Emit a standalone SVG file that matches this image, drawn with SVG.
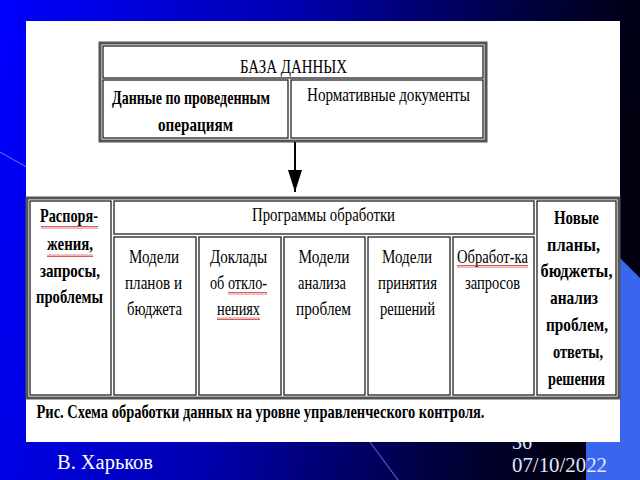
<svg xmlns="http://www.w3.org/2000/svg" width="640" height="480" viewBox="0 0 640 480" font-family="'Liberation Serif', 'Times New Roman', serif">
  <defs>
    <linearGradient id="bg" x1="0" y1="0" x2="1" y2="0.15">
      <stop offset="0" stop-color="#0000ff"/>
      <stop offset="0.45" stop-color="#0000b0"/>
      <stop offset="0.8" stop-color="#000040"/>
      <stop offset="1" stop-color="#000010"/>
    </linearGradient>
    <pattern id="wavy" width="4" height="3" patternUnits="userSpaceOnUse">
      <path d="M0,2.5 L1,0.5 L2,2.5 L3,0.5 L4,2.5" fill="none" stroke="#d03030" stroke-width="0.8"/>
    </pattern>
    <marker id="arrow" markerWidth="22" markerHeight="14" refX="22" refY="7" orient="auto" markerUnits="userSpaceOnUse" viewBox="0 0 22 14">
      <path d="M0,0 L22,7 L0,14 Z" fill="#000"/>
    </marker>
    <style>
      text { font-family: 'Liberation Serif', 'Times New Roman', serif; }
      .t { font-size: 19px; fill: #000; text-anchor: middle; }
      .b { font-weight: bold; }
      .outer { fill: #fff; stroke: #555; stroke-width: 3; }
      .cell { fill: #fff; stroke: #222; stroke-width: 1.3; }
      .foot { font-size: 20px; }
      .wave { fill: url(#wavy); }
    </style>
  </defs>

  <!-- background -->
  <rect x="0" y="0" width="640" height="480" fill="url(#bg)"/>
  <polygon points="586,224 640,278 640,480 586,480" fill="#3a66ee"/>
  <line x1="0" y1="152" x2="30" y2="169" stroke="#6a86ff" stroke-width="1.2" opacity="0.7"/>
  <line x1="370" y1="442" x2="398" y2="480" stroke="#6a86ff" stroke-width="1.2" opacity="0.7"/>
  <text class="foot" x="512" y="449" fill="#e0e8ff" font-size="18">36</text>

  <!-- slide white panel -->
  <rect x="26" y="21" width="594" height="421" fill="#fff"/>

  <!-- top table -->
  <g id="db-table">
    <rect class="outer" x="100" y="43" width="386" height="98"/>
    <g id="db-title">
      <rect class="cell" x="103" y="46" width="380" height="32"/>
      <text class="t" x="293.5" y="73" textLength="107" lengthAdjust="spacingAndGlyphs">БАЗА ДАННЫХ</text>
    </g>
    <g id="db-ops">
      <rect class="cell" x="103" y="80" width="185" height="58"/>
      <text class="t b" x="191" y="104" textLength="158" lengthAdjust="spacingAndGlyphs">Данные по проведенным</text>
      <text class="t b" x="195.5" y="131" textLength="75" lengthAdjust="spacingAndGlyphs">операциям</text>
    </g>
    <g id="db-norm">
      <rect class="cell" x="291" y="80" width="192" height="58"/>
      <text class="t" x="388.5" y="101" textLength="163" lengthAdjust="spacingAndGlyphs">Нормативные документы</text>
    </g>
  </g>

  <!-- connectors -->
  <g id="connectors">
    <line x1="295" y1="142" x2="295" y2="192" stroke="#000" stroke-width="2" marker-end="url(#arrow)"/>
  </g>

  <!-- bottom table -->
  <g id="proc-table">
    <rect class="outer" x="27" y="198" width="592" height="200"/>

    <g id="inputs">
      <rect class="cell" x="30" y="201" width="81" height="194"/>
      <text class="t b" x="69" y="222" textLength="58" lengthAdjust="spacingAndGlyphs">Распоря-</text>
      <text class="t b" x="70" y="250" textLength="46" lengthAdjust="spacingAndGlyphs">жения,</text>
      <text class="t b" x="70" y="277" textLength="60" lengthAdjust="spacingAndGlyphs">запросы,</text>
      <text class="t b" x="69.5" y="303" textLength="67" lengthAdjust="spacingAndGlyphs">проблемы</text>
      <rect class="wave" x="41" y="226" width="57" height="3"/>
      <rect class="wave" x="47" y="254" width="46" height="3"/>
    </g>

    <g id="programs">
      <rect class="cell" x="114" y="201" width="420" height="33"/>
      <text class="t" x="323.5" y="221" textLength="143" lengthAdjust="spacingAndGlyphs">Программы обработки</text>
    </g>

    <g id="m-plans">
      <rect class="cell" x="114" y="237" width="82" height="158"/>
      <text class="t" x="154" y="263" textLength="50" lengthAdjust="spacingAndGlyphs">Модели</text>
      <text class="t" x="153.5" y="289" textLength="57" lengthAdjust="spacingAndGlyphs">планов и</text>
      <text class="t" x="154.5" y="315" textLength="55" lengthAdjust="spacingAndGlyphs">бюджета</text>
    </g>

    <g id="m-reports">
      <rect class="cell" x="199" y="237" width="82" height="158"/>
      <text class="t" x="238.5" y="263" textLength="57" lengthAdjust="spacingAndGlyphs">Доклады</text>
      <text class="t" x="238.5" y="289" textLength="57" lengthAdjust="spacingAndGlyphs">об откло-</text>
      <text class="t" x="238.5" y="315" textLength="43" lengthAdjust="spacingAndGlyphs">нениях</text>
      <rect class="wave" x="228" y="292" width="39" height="3"/>
      <rect class="wave" x="217" y="317" width="43" height="3"/>
    </g>

    <g id="m-analysis">
      <rect class="cell" x="284" y="237" width="81" height="158"/>
      <text class="t" x="324" y="263" textLength="51" lengthAdjust="spacingAndGlyphs">Модели</text>
      <text class="t" x="322" y="289" textLength="48" lengthAdjust="spacingAndGlyphs">анализа</text>
      <text class="t" x="323.5" y="315" textLength="55" lengthAdjust="spacingAndGlyphs">проблем</text>
    </g>

    <g id="m-decisions">
      <rect class="cell" x="368" y="237" width="82" height="158"/>
      <text class="t" x="407" y="263" textLength="50" lengthAdjust="spacingAndGlyphs">Модели</text>
      <text class="t" x="407.5" y="289" textLength="59" lengthAdjust="spacingAndGlyphs">принятия</text>
      <text class="t" x="407.5" y="315" textLength="55" lengthAdjust="spacingAndGlyphs">решений</text>
    </g>

    <g id="m-requests">
      <rect class="cell" x="453" y="237" width="81" height="158"/>
      <text class="t" x="492.5" y="263" textLength="71" lengthAdjust="spacingAndGlyphs">Обработ-ка</text>
      <text class="t" x="492.5" y="289" textLength="55" lengthAdjust="spacingAndGlyphs">запросов</text>
      <rect class="wave" x="457" y="265" width="71" height="3"/>
    </g>

    <g id="outputs">
      <rect class="cell" x="537" y="201" width="79" height="194"/>
      <text class="t b" x="576.5" y="224" textLength="45" lengthAdjust="spacingAndGlyphs">Новые</text>
      <text class="t b" x="573.5" y="251" textLength="53" lengthAdjust="spacingAndGlyphs">планы,</text>
      <text class="t b" x="576.5" y="277" textLength="72" lengthAdjust="spacingAndGlyphs">бюджеты,</text>
      <text class="t b" x="574" y="304" textLength="48" lengthAdjust="spacingAndGlyphs">анализ</text>
      <text class="t b" x="577" y="331" textLength="62" lengthAdjust="spacingAndGlyphs">проблем,</text>
      <text class="t b" x="578" y="358" textLength="50" lengthAdjust="spacingAndGlyphs">ответы,</text>
      <text class="t b" x="576.5" y="385" textLength="57" lengthAdjust="spacingAndGlyphs">решения</text>
    </g>
  </g>

  <g id="caption">
    <text class="t b" x="260.5" y="418" textLength="448" lengthAdjust="spacingAndGlyphs">Рис. Схема обработки данных на уровне управленческого контроля.</text>
  </g>

  <!-- footer -->
  <g>
    <text class="foot" x="57" y="469" fill="#ffffff" textLength="96" lengthAdjust="spacingAndGlyphs">В. Харьков</text>
    <text class="foot" x="512" y="472" fill="#e0e8ff" textLength="95" lengthAdjust="spacingAndGlyphs">07/10/2022</text>
  </g>
</svg>
